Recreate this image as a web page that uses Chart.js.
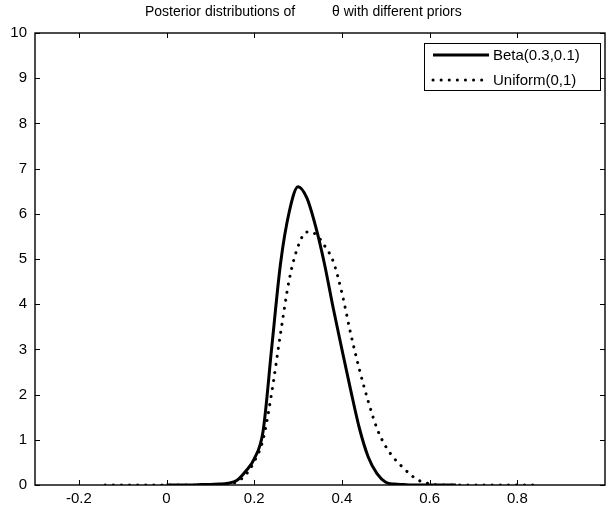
<!DOCTYPE html>
<html>
<head>
<meta charset="utf-8">
<script src="https://cdn.jsdelivr.net/npm/chart.js@4.4.0/dist/chart.umd.min.js"></script>
<style>
  html, body { margin: 0; padding: 0; background: #fff; }
  #wrap { width: 606px; height: 509px; }
</style>
</head>
<body>
<div id="wrap"><canvas id="posteriorChart" width="606" height="509"></canvas></div>
<script>
// title is split in two, the original has a wide gap before theta
const titleParts = ["Posterior distributions of", "\u03b8 with different priors"];

const xTicks = [-0.2, 0, 0.2, 0.4, 0.6, 0.8];
const yTicks = [0, 1, 2, 3, 4, 5, 6, 7, 8, 9, 10];

// Beta(0.3,0.1) prior
const xBeta = [0.00, 0.02, 0.04, 0.06, 0.08, 0.10, 0.12, 0.14, 0.16, 0.18,
               0.20, 0.22, 0.24, 0.26, 0.28, 0.30, 0.32, 0.34, 0.36, 0.38,
               0.40, 0.42, 0.44, 0.46, 0.48, 0.50, 0.52, 0.54, 0.56, 0.58,
               0.60, 0.62, 0.64, 0.66];
const yBeta = [0, 0, 0, 0, 0.01, 0.01, 0.02, 0.04, 0.10, 0.30,
               0.58, 1.18, 3.05, 4.90, 6.05, 6.60, 6.35, 5.72, 4.90, 3.92,
               3.00, 2.10, 1.25, 0.62, 0.25, 0.06, 0.02, 0.01, 0, 0,
               0, 0, 0, 0];

// Uniform(0,1) prior
const xUnif = [-0.14, -0.12, -0.10, -0.08, -0.06, -0.04, -0.02, 0.00, 0.02, 0.04,
               0.06, 0.08, 0.10, 0.12, 0.14, 0.16, 0.18, 0.20, 0.22, 0.24,
               0.26, 0.28, 0.30, 0.32, 0.34, 0.36, 0.38, 0.40, 0.42, 0.44,
               0.46, 0.48, 0.50, 0.52, 0.54, 0.56, 0.58, 0.60, 0.62, 0.64,
               0.66, 0.68, 0.70, 0.72, 0.74, 0.76, 0.78, 0.80, 0.82, 0.84];
const yUnif = [0, 0, 0, 0, 0, 0, 0, 0, 0, 0,
               0, 0, 0, 0, 0.02, 0.07, 0.22, 0.52, 1.00, 2.05,
               3.35, 4.55, 5.28, 5.60, 5.55, 5.30, 4.95, 4.25, 3.35, 2.55,
               1.85, 1.25, 0.85, 0.58, 0.38, 0.20, 0.08, 0.03, 0, 0,
               0, 0, 0, 0, 0, 0, 0, 0, 0, 0];

const FONT = "'Liberation Sans', Arial, sans-serif";

const toPoints = (xs, ys) => xs.map((x, i) => ({ x: x, y: ys[i] }));

// matlab style frame: box round the axes and ticks pointing inward
const framePlugin = {
  id: "frame",
  beforeDatasetsDraw(chart) {
    const { ctx, chartArea: a, scales } = chart;
    const len = 5;
    ctx.save();
    ctx.strokeStyle = "#000";
    ctx.lineWidth = 1;
    ctx.beginPath();
    xTicks.forEach((v) => {
      const px = Math.round(scales.x.getPixelForValue(v)) + 0.5;
      ctx.moveTo(px, a.bottom);
      ctx.lineTo(px, a.bottom - len);
      ctx.moveTo(px, a.top);
      ctx.lineTo(px, a.top + len);
    });
    yTicks.forEach((v) => {
      const py = Math.round(scales.y.getPixelForValue(v)) + 0.5;
      ctx.moveTo(a.left, py);
      ctx.lineTo(a.left + len, py);
      ctx.moveTo(a.right, py);
      ctx.lineTo(a.right - len, py);
    });
    ctx.stroke();
    ctx.lineWidth = 1.4;
    ctx.strokeRect(a.left, a.top, a.right - a.left, a.bottom - a.top);
    ctx.restore();
  },
  afterDraw(chart) {
    const ctx = chart.ctx;
    ctx.save();
    ctx.fillStyle = "#000";
    ctx.font = "14px " + FONT;
    ctx.textBaseline = "middle";
    ctx.textAlign = "left";
    ctx.fillText(titleParts[0], 145, 12);
    ctx.fillText(titleParts[1], 332, 12);

    // legend
    const box = { x: 424.5, y: 43.5, w: 176, h: 47 };
    ctx.fillStyle = "#fff";
    ctx.fillRect(box.x, box.y, box.w, box.h);
    ctx.strokeStyle = "#000";
    ctx.lineWidth = 1;
    ctx.strokeRect(box.x, box.y, box.w, box.h);
    const rows = [55, 80];
    chart.data.datasets.forEach((ds, i) => {
      const y = rows[i];
      ctx.beginPath();
      ctx.lineWidth = ds.borderWidth;
      ctx.lineCap = ds.borderCapStyle || "butt";
      ctx.setLineDash(ds.borderDash || []);
      ctx.moveTo(433, y);
      ctx.lineTo(489, y);
      ctx.stroke();
      ctx.setLineDash([]);
      ctx.fillStyle = "#000";
      ctx.font = "15px " + FONT;
      ctx.textAlign = "left";
      ctx.textBaseline = "middle";
      ctx.fillText(ds.label, 493, y + 1);
    });
    ctx.restore();
  },
};

const ctx = document.getElementById("posteriorChart").getContext("2d");
new Chart(ctx, {
  type: "line",
  data: {
    datasets: [
      {
        label: "Beta(0.3,0.1)",
        data: toPoints(xBeta, yBeta),
        borderColor: "#000",
        borderWidth: 3,
        pointRadius: 0,
        cubicInterpolationMode: "monotone",
        fill: false,
      },
      {
        label: "Uniform(0,1)",
        data: toPoints(xUnif, yUnif),
        borderColor: "#000",
        borderWidth: 3,
        borderDash: [0.1, 8],
        borderCapStyle: "round",
        pointRadius: 0,
        cubicInterpolationMode: "monotone",
        fill: false,
      },
    ],
  },
  options: {
    responsive: false,
    animation: false,
    events: [],
    layout: {
      padding: { top: 33, right: 1, left: 0, bottom: 0 },
    },
    plugins: {
      legend: { display: false },
      title: { display: false },
      tooltip: { enabled: false },
    },
    scales: {
      x: {
        type: "linear",
        min: -0.3,
        max: 1.0,
        afterBuildTicks: (scale) => {
          scale.ticks = xTicks.map((v) => ({ value: v }));
        },
        afterFit: (scale) => {
          scale.height = 24;
        },
        grid: { display: false, drawTicks: false },
        border: { display: false },
        ticks: {
          color: "#000",
          padding: 5,
          maxRotation: 0,
          font: { family: FONT, size: 15 },
          callback: (v) => String(Math.round(v * 10) / 10),
        },
      },
      y: {
        type: "linear",
        min: 0,
        max: 10,
        afterBuildTicks: (scale) => {
          scale.ticks = yTicks.map((v) => ({ value: v }));
        },
        afterFit: (scale) => {
          scale.width = 35;
        },
        grid: { display: false, drawTicks: false },
        border: { display: false },
        ticks: {
          color: "#000",
          padding: 8,
          font: { family: FONT, size: 15 },
        },
      },
    },
  },
  plugins: [framePlugin],
});
</script>
</body>
</html>
